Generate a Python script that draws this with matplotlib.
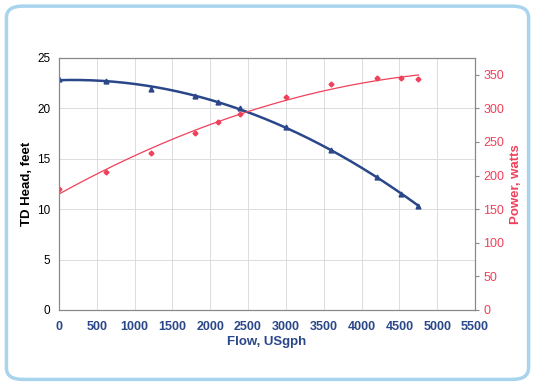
import numpy as np
import matplotlib.pyplot as plt
from matplotlib.patches import FancyBboxPatch

plt.rcParams['font.family'] = ['Liberation Sans', 'DejaVu Sans']

# data
flow = [0, 620, 1220, 1800, 2100, 2400, 3000, 3600, 4200, 4520, 4750]
head = [22.9, 22.75, 21.9, 21.2, 20.6, 20.0, 18.2, 15.9, 13.2, 11.5, 10.3]
power = [180, 205, 233, 263, 280, 292, 317, 336, 345, 345, 343]

x_ticks = [0, 500, 1000, 1500, 2000, 2500, 3000, 3500, 4000, 4500, 5000, 5500]
head_ticks = [0, 5, 10, 15, 20, 25]
power_ticks = [0, 50, 100, 150, 200, 250, 300, 350]

navy = '#2a4789'
red = '#f0405a'

fig = plt.figure(figsize=(5.35, 3.84), dpi=100)
frame = FancyBboxPatch((0.012, 0.012), 0.976, 0.972, boxstyle='round,pad=0,rounding_size=0.03',
                       transform=fig.transFigure, facecolor='none', edgecolor='#a9d4ee', linewidth=2.5)
fig.patches.append(frame)

ax = fig.add_axes([0.110, 0.193, 0.778, 0.656])
ax2 = ax.twinx()

# polynomial trend lines (2nd order)
xs = np.linspace(0, max(flow), 200)
ph = np.polyfit(flow, head, 2)
pp = np.polyfit(flow, power, 2)

ax.plot(xs, np.polyval(ph, xs), color=navy, lw=1.8, zorder=3)
ax.plot(flow, head, '^', color=navy, ms=3.5, zorder=4)
ax2.plot(xs, np.polyval(pp, xs), color=red, lw=0.9)
ax2.plot(flow, power, 'D', color=red, ms=2.5)

ax.set_xlim(0, 5500)
ax.set_ylim(0, 25)
ax2.set_ylim(0, 375)
ax.set_xticks(x_ticks)
ax.set_yticks(head_ticks)
ax2.set_yticks(power_ticks)

ax.grid(True, color='#dcdcdc', lw=0.7)
ax.set_axisbelow(True)
for a in (ax, ax2):
    for s in a.spines.values():
        s.set_color('#888888')
        s.set_linewidth(0.8)

ax.tick_params(axis='x', length=0, pad=8, labelsize=9, labelcolor=navy)
for t in ax.get_xticklabels():
    t.set_fontweight('bold')
ax.tick_params(axis='y', length=0, pad=6, labelsize=8.5, labelcolor='black')
ax2.tick_params(axis='y', length=3, pad=3, labelsize=9, labelcolor=red, color='#888888')

ax.set_xlabel('Flow, USgph', color=navy, fontweight='bold', fontsize=9.5, labelpad=2)
ax.set_ylabel('TD Head, feet', color='black', fontweight='bold', fontsize=9.5, labelpad=3)
ax2.set_ylabel('Power, watts', color=red, fontweight='bold', fontsize=9.5, labelpad=4)

fig.savefig('out.png', dpi=100)
